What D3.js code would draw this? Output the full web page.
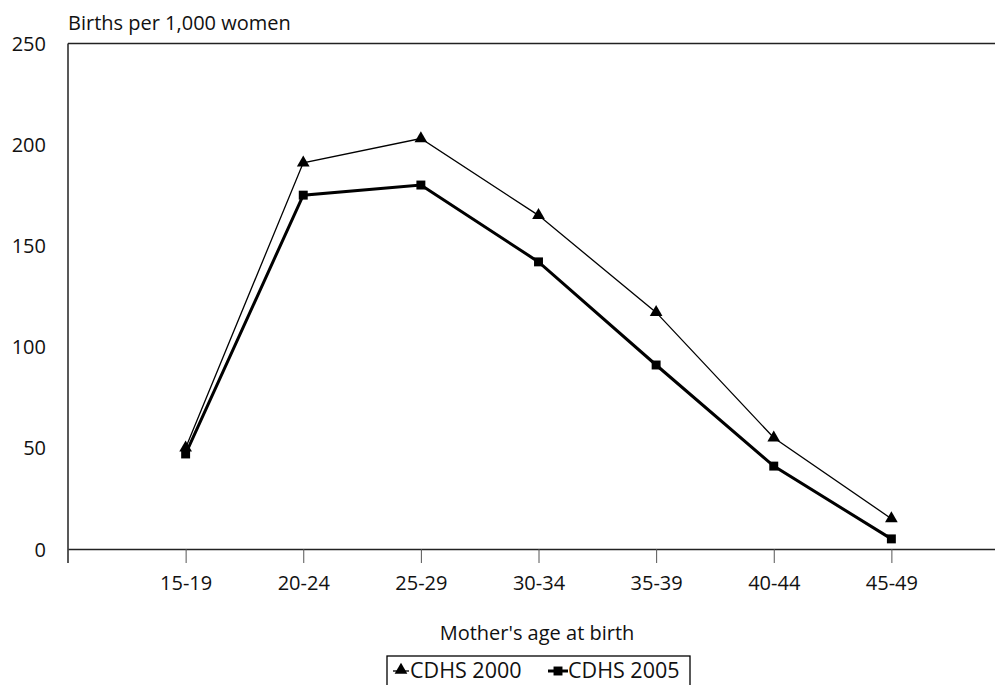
<!DOCTYPE html>
<html>
<head>
<meta charset="utf-8">
<script src="https://cdn.jsdelivr.net/npm/d3@7"></script>
<style>
  html, body { margin: 0; padding: 0; background: #fff; }
  svg { display: block; }
  text { font-family: "Open Sans", Lato, sans-serif; fill: #111; }
</style>
</head>
<body>
<svg id="chart" width="995" height="685"></svg>
<script>
const ageGroups = ["15-19", "20-24", "25-29", "30-34", "35-39", "40-44", "45-49"];
const cdhs2000 = [50, 191, 203, 165, 117, 55, 15];
const cdhs2005 = [47, 175, 180, 142, 91, 41, 5];
const yTicks = [0, 50, 100, 150, 200, 250];
const seriesNames = ["CDHS 2000", "CDHS 2005"];
const yAxisTitle = "Births per 1,000 women";
const xAxisTitle = "Mother's age at birth";

const svg = d3.select("#chart");
const plotLeft = 68, plotTop = 43.5, plotBottom = 549, plotRightEnd = 1009;

const x = d3.scalePoint().domain(ageGroups).range([plotLeft, plotRightEnd]).padding(1);
const y = d3.scaleLinear().domain([0, 250]).range([plotBottom, plotTop]);

// top frame line
svg.append("line").attr("x1", plotLeft).attr("x2", 995).attr("y1", plotTop).attr("y2", plotTop)
  .attr("stroke", "#222").attr("stroke-width", 1.5);

// y axis (no tick marks)
const yAxis = svg.append("g").attr("transform", `translate(${plotLeft},0)`)
  .call(d3.axisLeft(y).tickValues(yTicks).tickSize(0).tickPadding(22));
yAxis.select(".domain").remove();
yAxis.selectAll("text").style("font-size", "20px").attr("dy", "0.35em");
svg.append("line").attr("x1", plotLeft).attr("x2", plotLeft).attr("y1", plotTop).attr("y2", plotBottom + 14)
  .attr("stroke", "#222").attr("stroke-width", 1.5);

// x axis
const xAxis = svg.append("g").attr("transform", `translate(0,${plotBottom})`)
  .call(d3.axisBottom(x).tickSizeInner(14).tickSizeOuter(0).tickPadding(13));
xAxis.select(".domain").attr("stroke", "#222").attr("stroke-width", 1.5);
xAxis.selectAll(".tick line").attr("stroke", "#555").attr("stroke-width", 1);
xAxis.selectAll("text").style("font-size", "20px");

// titles
svg.append("text").attr("x", plotLeft).attr("y", 30).style("font-size", "20px").text(yAxisTitle);
svg.append("text").attr("x", 537).attr("y", 640).attr("text-anchor", "middle")
  .style("font-size", "20px").text(xAxisTitle);

// lines
const line = d3.line().x((d, i) => x(ageGroups[i])).y(d => y(d));
svg.append("path").datum(cdhs2000).attr("d", line).attr("fill", "none")
  .attr("stroke", "#000").attr("stroke-width", 1.3);
svg.append("path").datum(cdhs2005).attr("d", line).attr("fill", "none")
  .attr("stroke", "#000").attr("stroke-width", 3);

const tri = d3.symbol().type(d3.symbolTriangle).size(70);
const sq = d3.symbol().type(d3.symbolSquare).size(80);
svg.append("g").selectAll("path").data(cdhs2000).join("path")
  .attr("d", tri).attr("transform", (d, i) => `translate(${x(ageGroups[i])},${y(d)})`).attr("fill", "#000");
svg.append("g").selectAll("path").data(cdhs2005).join("path")
  .attr("d", sq).attr("transform", (d, i) => `translate(${x(ageGroups[i])},${y(d)})`).attr("fill", "#000");

// legend
const lg = svg.append("g");
lg.append("rect").attr("x", 387).attr("y", 656).attr("width", 303).attr("height", 40)
  .attr("fill", "none").attr("stroke", "#000").attr("stroke-width", 1.3);
lg.append("line").attr("x1", 393).attr("x2", 409).attr("y1", 671).attr("y2", 671)
  .attr("stroke", "#000").attr("stroke-width", 1.3);
lg.append("path").attr("d", tri).attr("transform", "translate(401,670)").attr("fill", "#000");
lg.append("text").attr("x", 410).attr("y", 678).style("font-size", "21.5px").text(seriesNames[0]);
lg.append("line").attr("x1", 548).attr("x2", 568).attr("y1", 671).attr("y2", 671)
  .attr("stroke", "#000").attr("stroke-width", 3);
lg.append("path").attr("d", sq).attr("transform", "translate(558,671)").attr("fill", "#000");
lg.append("text").attr("x", 568).attr("y", 678).style("font-size", "21.5px").text(seriesNames[1]);
</script>
</body>
</html>
